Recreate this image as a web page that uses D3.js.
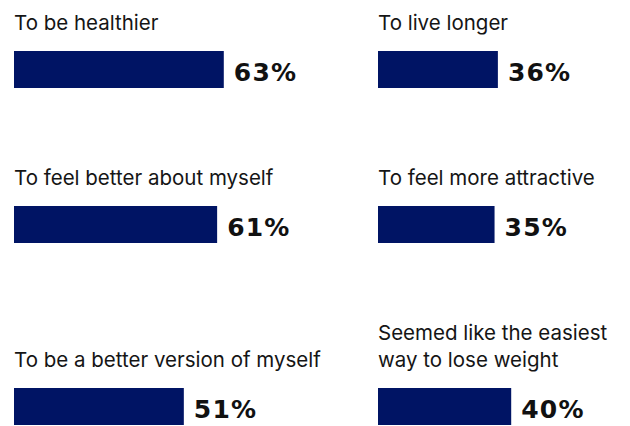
<!DOCTYPE html>
<html>
<head>
  <meta charset="utf-8">
  <script src="https://cdn.jsdelivr.net/npm/d3@7"></script>
  <style>
    body { margin: 0; background: #fff; }
    svg { display: block; }
    .label { font-family: Inter, "Open Sans", sans-serif; font-size: 20.5px; fill: #151515; }
    .value { font-family: "DejaVu Sans", sans-serif; font-weight: bold; font-size: 25px; fill: #111; letter-spacing: 1.2px; }
  </style>
</head>
<body>
<script>
  // reasons, laid out row by row (left column, right column)
  var leftLabels = [["To be healthier"], ["To feel better about myself"], ["To be a better version of myself"]];
  var leftValues = [63, 61, 51];
  var rightLabels = [["To live longer"], ["To feel more attractive"], ["Seemed like the easiest", "way to lose weight"]];
  var rightValues = [36, 35, 40];

  var width = 630, height = 426;
  var colX = [14, 378];
  var barH = 37, lineH = 27, labelGap = 21, rowGap = 70;

  var svg = d3.select("body").append("svg")
    .attr("width", width)
    .attr("height", height);

  // 100% would be 333px wide
  var x = d3.scaleLinear().domain([0, 100]).range([0, 333]);

  // work out bar tops from the number of label lines in each row
  var barTops = [];
  var y = 51;
  leftLabels.forEach(function (l, i) {
    var lines = Math.max(l.length, rightLabels[i].length);
    if (i > 0) y += barH + rowGap + lines * lineH + labelGap;
    barTops.push(y);
  });

  var cells = [];
  leftLabels.forEach(function (l, i) {
    cells.push({ col: 0, row: i, label: l, value: leftValues[i] });
    cells.push({ col: 1, row: i, label: rightLabels[i], value: rightValues[i] });
  });

  var g = svg.selectAll("g.cell")
    .data(cells)
    .enter().append("g")
      .attr("class", "cell")
      .attr("transform", function (d) { return "translate(" + colX[d.col] + "," + barTops[d.row] + ")"; });

  g.append("rect")
    .attr("x", 0)
    .attr("y", 0)
    .attr("width", function (d) { return x(d.value); })
    .attr("height", barH)
    .style("fill", "#001464");

  g.append("text")
    .attr("class", "value")
    .attr("x", function (d) { return x(d.value) + 10; })
    .attr("y", barH / 2 + 11)
    .text(function (d) { return d.value + "%"; });

  g.each(function (d) {
    var n = d.label.length;
    d3.select(this).selectAll("text.label")
      .data(d.label)
      .enter().append("text")
        .attr("class", "label")
        .attr("x", 0)
        .attr("y", function (t, i) { return -labelGap - (n - 1 - i) * lineH; })
        .text(function (t) { return t; });
  });
</script>
</body>
</html>
